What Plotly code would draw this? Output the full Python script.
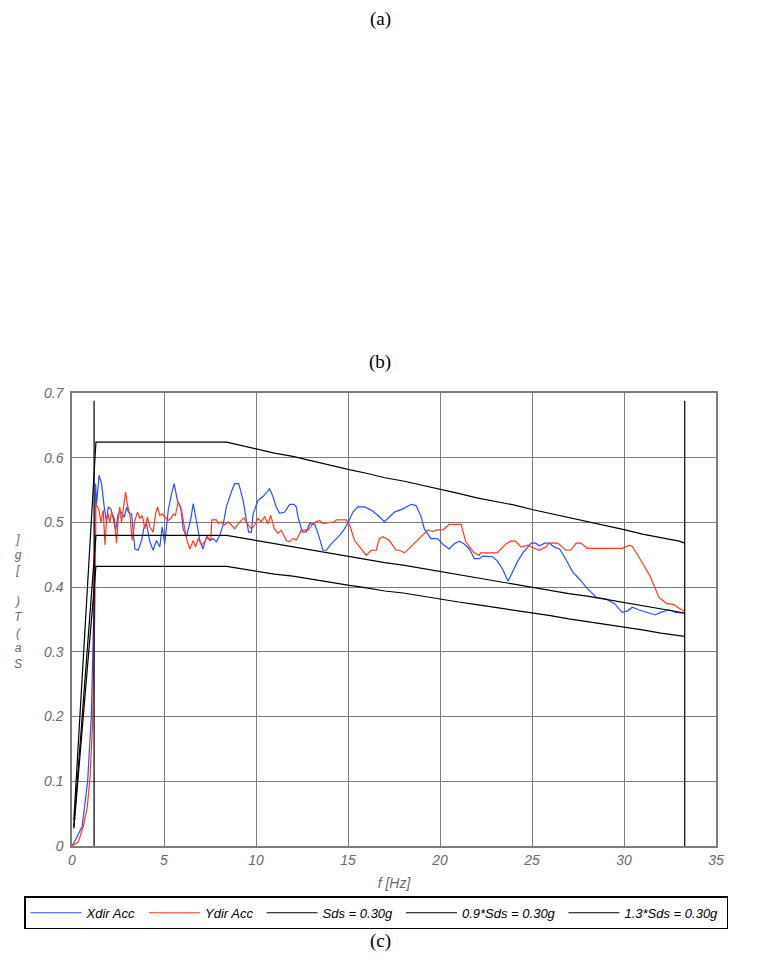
import plotly.graph_objects as go

# ---------------- data ----------------
x_blue = [0, 0.2, 0.55, 0.85, 1.05, 1.2, 1.28, 1.34, 1.47, 1.61, 1.75, 1.88, 1.97, 2.11, 2.24, 2.37,
          2.51, 2.69, 2.84, 2.97, 3.06, 3.24, 3.42, 3.6, 3.78, 3.92, 4.05, 4.23, 4.41, 4.59, 4.77,
          4.9, 5.04, 5.23, 5.41, 5.55, 5.73, 5.91, 6.04, 6.22, 6.46, 6.59, 6.76, 6.95, 7.12, 7.31,
          7.49, 7.67, 7.85, 8.03, 8.21, 8.39, 8.66, 8.84, 9.06, 9.3, 9.48, 9.6, 9.75, 9.84, 10.11,
          10.38, 10.74, 10.92, 11.1, 11.28, 11.56, 11.83, 12.06, 12.19, 12.28, 12.52, 12.73, 12.91,
          13.19, 13.37, 13.64, 13.82, 14.09, 14.54, 14.81, 15.03, 15.27, 15.54, 15.9, 16.26, 16.62,
          16.98, 17.16, 17.53, 17.98, 18.43, 18.7, 18.97, 19.15, 19.5, 19.87, 20.2, 20.5, 20.78,
          21.05, 21.3, 21.6, 21.87, 22.14, 22.32, 22.86, 23.1, 23.4, 23.7, 23.85, 24.2, 24.5, 24.96,
          25.2, 25.4, 25.7, 25.94, 26.2, 26.5, 26.76, 27.2, 27.56, 28.0, 28.5, 29.0, 29.5, 29.9,
          30.18, 30.45, 30.8, 31.27, 31.7, 32.0, 32.45, 32.8, 33.27]
y_blue = [0, 0.01, 0.03, 0.10, 0.20, 0.38, 0.56, 0.529, 0.573, 0.56, 0.524, 0.50, 0.524, 0.521, 0.506,
          0.488, 0.513, 0.516, 0.508, 0.524, 0.516, 0.513, 0.459, 0.457, 0.472, 0.493, 0.498, 0.470,
          0.457, 0.472, 0.462, 0.493, 0.467, 0.519, 0.544, 0.56, 0.534, 0.524, 0.490, 0.478, 0.506,
          0.529, 0.503, 0.472, 0.459, 0.478, 0.472, 0.475, 0.470, 0.48, 0.496, 0.524, 0.547, 0.56,
          0.56, 0.534, 0.503, 0.485, 0.485, 0.513, 0.534, 0.540, 0.552, 0.540, 0.524, 0.514, 0.516,
          0.528, 0.528, 0.524, 0.509, 0.485, 0.485, 0.498, 0.497, 0.483, 0.457, 0.457, 0.467, 0.480,
          0.490, 0.501, 0.516, 0.524, 0.524, 0.519, 0.511, 0.501, 0.506, 0.516, 0.521, 0.528, 0.526,
          0.509, 0.490, 0.475, 0.475, 0.465, 0.459, 0.467, 0.471, 0.467, 0.459, 0.444, 0.444, 0.448,
          0.447, 0.441, 0.428, 0.409, 0.418, 0.439, 0.453, 0.468, 0.468, 0.464, 0.468, 0.468, 0.462,
          0.459, 0.447, 0.424, 0.413, 0.398, 0.384, 0.382, 0.374, 0.361, 0.363, 0.369, 0.365, 0.361,
          0.357, 0.361, 0.365, 0.361, 0.360]

x_red = [0, 0.34, 0.61, 0.83, 0.98, 1.12, 1.25, 1.3, 1.47, 1.57, 1.7, 1.79, 1.88, 1.97, 2.06, 2.15,
         2.3, 2.42, 2.51, 2.6, 2.69, 2.79, 2.91, 3.02, 3.15, 3.27, 3.42, 3.56, 3.69, 3.82, 3.96, 4.1,
         4.23, 4.41, 4.54, 4.65, 4.77, 4.9, 5.04, 5.23, 5.37, 5.5, 5.62, 5.77, 5.95, 6.09, 6.22, 6.4,
         6.59, 6.71, 6.86, 7.04, 7.22, 7.36, 7.54, 7.6, 7.85, 7.98, 8.12, 8.3, 8.48, 8.66, 8.84, 9.12,
         9.35, 9.53, 9.75, 9.93, 10.11, 10.29, 10.47, 10.65, 10.8, 11.0, 11.2, 11.37, 11.65, 11.83,
         12.0, 12.19, 12.46, 12.82, 13.1, 13.28, 13.46, 13.64, 14.27, 14.36, 14.9, 15.09, 15.36,
         15.72, 16.0, 16.26, 16.53, 16.71, 16.89, 17.25, 17.62, 17.8, 18.07, 18.97, 19.33, 19.6,
         19.78, 20.2, 20.5, 21.15, 21.4, 21.86, 22.14, 22.2, 23.1, 23.6, 23.85, 24.1, 24.4, 24.8,
         24.96, 25.39, 25.76, 25.94, 26.4, 26.84, 27.1, 27.4, 27.66, 28.0, 29.9, 30.3, 30.45, 30.8,
         31.4, 31.9, 32.3, 32.72, 33.0, 33.27]
y_red = [0, 0.006, 0.03, 0.06, 0.106, 0.19, 0.38, 0.529, 0.519, 0.50, 0.519, 0.465, 0.506, 0.513, 0.50,
         0.516, 0.506, 0.468, 0.506, 0.524, 0.50, 0.521, 0.547, 0.526, 0.511, 0.472, 0.503, 0.516,
         0.506, 0.511, 0.490, 0.508, 0.493, 0.485, 0.513, 0.524, 0.511, 0.513, 0.508, 0.503, 0.506,
         0.513, 0.511, 0.532, 0.519, 0.493, 0.475, 0.459, 0.472, 0.462, 0.475, 0.465, 0.470, 0.478,
         0.472, 0.504, 0.504, 0.498, 0.501, 0.496, 0.501, 0.496, 0.490, 0.501, 0.507, 0.498, 0.490,
         0.496, 0.506, 0.501, 0.509, 0.498, 0.511, 0.490, 0.483, 0.488, 0.472, 0.470, 0.475, 0.473,
         0.488, 0.488, 0.498, 0.501, 0.503, 0.498, 0.501, 0.504, 0.504, 0.496, 0.472, 0.459, 0.449,
         0.457, 0.457, 0.475, 0.478, 0.472, 0.457, 0.457, 0.453, 0.478, 0.488, 0.486, 0.488, 0.489,
         0.497, 0.497, 0.470, 0.453, 0.449, 0.453, 0.453, 0.467, 0.471, 0.471, 0.462, 0.465, 0.462,
         0.457, 0.462, 0.468, 0.468, 0.457, 0.457, 0.468, 0.468, 0.460, 0.460, 0.465, 0.463, 0.447,
         0.418, 0.384, 0.375, 0.373, 0.367, 0.363]

x_design = [0.1, 1.3, 8.4, 9, 10, 11, 12, 13, 14, 15, 16, 17, 18, 19, 20, 21, 22, 23, 24, 25, 26,
            27, 28, 29, 30, 31, 32, 33, 33.3]
y_sds = [0.030, 0.480, 0.480, 0.477, 0.472, 0.467, 0.463, 0.458, 0.453, 0.448, 0.443, 0.438, 0.434,
         0.429, 0.424, 0.419, 0.414, 0.410, 0.405, 0.400, 0.395, 0.390, 0.386, 0.381, 0.376, 0.371,
         0.366, 0.362, 0.360]
y_sds09 = [0.027, 0.432, 0.432, 0.429, 0.425, 0.420, 0.417, 0.412, 0.408, 0.403, 0.399, 0.394, 0.391,
           0.386, 0.382, 0.377, 0.373, 0.369, 0.365, 0.360, 0.356, 0.351, 0.347, 0.343, 0.338, 0.334,
           0.329, 0.326, 0.324]
y_sds13 = [0.040, 0.624, 0.624, 0.620, 0.614, 0.607, 0.602, 0.595, 0.589, 0.582, 0.576, 0.569, 0.564,
           0.558, 0.551, 0.545, 0.538, 0.533, 0.527, 0.520, 0.514, 0.507, 0.501, 0.495, 0.489, 0.482,
           0.476, 0.471, 0.468]

vline_x = [1.2, 33.3]
vline_y = [0.0, 0.688]

x_ticks = [0, 5, 10, 15, 20, 25, 30, 35]
y_ticks = [0, 0.1, 0.2, 0.3, 0.4, 0.5, 0.6, 0.7]
y_tick_text = ["0", "0.1", "0.2", "0.3", "0.4", "0.5", "0.6", "0.7"]

names = ["Xdir Acc", "Ydir Acc", "Sds = 0.30g", "0.9*Sds = 0.30g", "1.3*Sds = 0.30g"]

# ---------------- figure ----------------
BLUE = "#2a4dff"
RED = "#ff3a1c"
GRID = "#7c7c7c"
TICK = "#6a6a6a"
FONT = "Liberation Sans"
PAD = "\u00a0"   # a little extra space after each legend entry

fig = go.Figure()
fig.add_trace(go.Scatter(x=x_blue, y=y_blue, mode="lines", name=names[0] + PAD,
                         line=dict(color=BLUE, width=1.2)))
fig.add_trace(go.Scatter(x=x_red, y=y_red, mode="lines", name=names[1] + PAD,
                         line=dict(color=RED, width=1.2)))
fig.add_trace(go.Scatter(x=x_design, y=y_sds, mode="lines", name=names[2] + PAD,
                         line=dict(color="black", width=1.2)))
fig.add_trace(go.Scatter(x=x_design, y=y_sds09, mode="lines", name=names[3] + PAD,
                         line=dict(color="black", width=1.2)))
fig.add_trace(go.Scatter(x=x_design, y=y_sds13, mode="lines", name=names[4] + PAD,
                         line=dict(color="black", width=1.2)))
vx, vy = [], []
for xv in vline_x:
    vx += [xv, xv, None]
    vy += [vline_y[0], vline_y[1], None]
fig.add_trace(go.Scatter(x=vx, y=vy, mode="lines", showlegend=False,
                         line=dict(color="black", width=1.2), hoverinfo="skip"))

axis_common = dict(showline=True, mirror=True, linecolor=GRID, linewidth=1.5,
                   showgrid=True, gridcolor=GRID, gridwidth=1.3, zeroline=False,
                   ticks="", tickfont=dict(family=FONT, size=14, color=TICK, style="italic"))

fig.update_xaxes(range=[0, 35], tickvals=x_ticks, ticktext=[str(v) for v in x_ticks],
                 title=dict(text="f [Hz]", standoff=12,
                            font=dict(family=FONT, size=14, color=TICK, style="italic")),
                 **axis_common)
fig.update_yaxes(range=[0, 0.7], tickvals=y_ticks, ticktext=y_tick_text, ticklabelstandoff=4,
                 **axis_common)

title_font = dict(family="Liberation Serif", size=19, color="black")
fig.add_annotation(xref="paper", yref="paper", showarrow=False, xanchor="center", yanchor="top",
                   x=0.479, y=1.851, text="(a)", font=title_font, borderpad=0)
fig.add_annotation(xref="paper", yref="paper", showarrow=False, xanchor="center", yanchor="middle",
                   x=0.479, y=1.069, text="(b)", font=title_font)
fig.add_annotation(xref="paper", yref="paper", showarrow=False, xanchor="center", yanchor="middle",
                   x=0.479, y=-0.209, text="(c)", font=title_font)

fig.add_annotation(xref="paper", yref="paper", x=-0.083, y=0.54, xanchor="center", yanchor="middle",
                   showarrow=False, align="center",
                   text="]<br>g<br>[<br>\u00a0<br>)<br>T<br>(<br>a<br>S",
                   font=dict(family=FONT, size=12, color=TICK, style="italic"))

# the page body adds an 8 px offset, so the figure is 8 px smaller in each direction
fig.update_layout(
    width=753, height=957,
    margin=dict(l=64, r=45, t=385, b=119),
    paper_bgcolor="white", plot_bgcolor="white",
    showlegend=True,
    legend=dict(orientation="h", x=-0.0745, xanchor="left", y=-0.111, yanchor="top",
                bordercolor="black", borderwidth=1.5, bgcolor="white",
                font=dict(family=FONT, size=13, color="black", style="italic"),
                itemwidth=51),
)

fig.write_html("out.html")
